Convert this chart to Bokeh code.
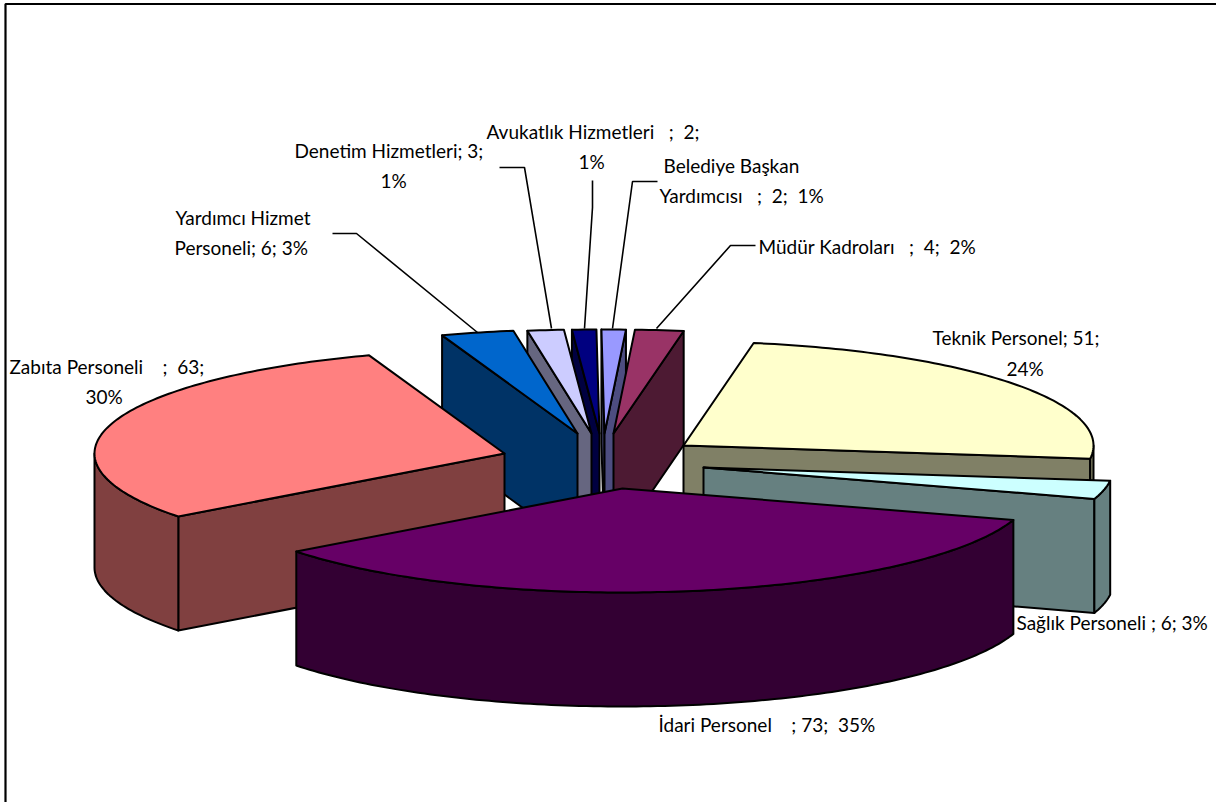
import math
from bokeh.plotting import figure
from bokeh.embed import file_html
from bokeh.resources import INLINE
from bokeh.core.properties import value

# ---- data (clockwise, from the first slice after 12 o'clock)
CATEGORIES = ["Müdür Kadroları", "Teknik Personel", "Sağlık Personeli", "İdari Personel",
              "Zabıta Personeli", "Yardımcı Hizmet Personeli", "Denetim Hizmetleri",
              "Avukatlık Hizmetleri", "Belediye Başkan Yardımcısı"]
VALUES = [4, 51, 6, 73, 63, 6, 3, 2, 2]
TOP_COLORS = ["#993366", "#FFFFCC", "#CCFFFF", "#660066", "#FF8080",
              "#0066CC", "#CCCCFF", "#000080", "#9999FF"]
SIDE_COLORS = ["#4D1A33", "#808066", "#668080", "#330033", "#804040",
               "#003366", "#666680", "#000040", "#4D4D80"]

# ---- layout of the exploded 3-D pie
FIRST_ANGLE = 3.0
RX, RY, DEPTH = 410, 104, 114
PIE_CX, PIE_CY = 600, 450
EXPLODE_DX = [13, 83, 103, 22, -96, -23, -9, -1, 4]
EXPLODE_DY = [-17, -5, 17, 38, 3, -17, -17, -17, -17]
PAINT_ORDER = [7, 8, 6, 5, 0, 1, 2, 4, 3]

NB = "\u00a0"
# label lines: text, left x, centre y
LABELS = [
    (f"Avukatlık Hizmetleri{NB}{NB} ;{NB} 2;", 486, 131), ("1%", 578, 161),
    ("Denetim Hizmetleri; 3;", 294, 150), ("1%", 380, 180),
    ("Yardımcı Hizmet", 175, 217), ("Personeli; 6; 3%", 174, 247),
    ("Belediye Başkan", 663, 165), (f"Yardımcısı{NB}{NB} ;{NB} 2;{NB} 1%", 659, 195),
    (f"Müdür Kadroları{NB}{NB} ;{NB} 4;{NB} 2%", 758, 246),
    ("Teknik Personel; 51;", 932, 337), ("24%", 1006, 368),
    (f"Zabıta Personeli{NB}{NB}{NB} ;{NB} 63;", 9, 366), ("30%", 85, 396),
    ("Sağlık Personeli ; 6; 3%", 1016, 622),
    (f"İdari Personel{NB}{NB}{NB} ; 73;{NB} 35%", 658, 724),
]
LEADERS = [
    ([332, 356, 477], [233, 233, 332]),
    ([499, 524, 551], [167, 167, 328]),
    ([592, 592, 584], [180, 207, 328]),
    ([657, 632, 612], [181, 181, 328]),
    ([755, 730, 656], [245, 245, 328]),
]

p = figure(width=1216, height=802, x_range=(0, 1216), y_range=(802, 0),
           output_backend="svg", toolbar_location=None, min_border=0,
           outline_line_color=None, background_fill_color="white",
           border_fill_color="white")
p.axis.visible = False
p.grid.visible = False

# frame: only the left and top edges fall inside the picture
p.line([5, 5, 1216], [802, 3.5, 3.5], line_color="black", line_width=2.2)

total = sum(VALUES)
starts, ends = [], []
a = FIRST_ANGLE
for v in VALUES:
    starts.append(a)
    a += v / total * 360
    ends.append(a)


def rim(i, t):
    r = math.radians(t)
    return (PIE_CX + EXPLODE_DX[i] + RX * math.sin(r),
            PIE_CY + EXPLODE_DY[i] - RY * math.cos(r))


def arc(i, t0, t1, n=None):
    n = n or max(2, int(abs(t1 - t0)) + 2)
    return [rim(i, t0 + (t1 - t0) * k / (n - 1)) for k in range(n)]


def fill(points, color):
    p.patch([q[0] for q in points], [q[1] for q in points], fill_color=color,
            line_color="black", line_width=2, line_join="round")


for i in PAINT_ORDER:
    s, e = starts[i], ends[i]
    apex = (PIE_CX + EXPLODE_DX[i], PIE_CY + EXPLODE_DY[i])
    faces = []
    if math.sin(math.radians(s)) < 0:
        faces.append(rim(i, s))
    if math.sin(math.radians(e)) > 0:
        faces.append(rim(i, e))
    for q in faces:
        fill([apex, q, (q[0], q[1] + DEPTH), (apex[0], apex[1] + DEPTH)], SIDE_COLORS[i])
    w0, w1 = max(s, 90), min(e, 270)
    if w1 > w0:
        top = arc(i, w0, w1)
        fill(top + [(x, y + DEPTH) for x, y in reversed(top)], SIDE_COLORS[i])
    fill([apex] + arc(i, s, e), TOP_COLORS[i])

for xs, ys in LEADERS:
    p.line(xs, ys, line_color="black", line_width=1.6)

p.text(x=[l[1] for l in LABELS], y=[l[2] for l in LABELS], text=[l[0] for l in LABELS],
       text_font=value("Lato"), text_font_size="19px", text_color="black",
       text_align="left", text_baseline="middle")

open("out.html", "w").write(file_html(p, INLINE))
